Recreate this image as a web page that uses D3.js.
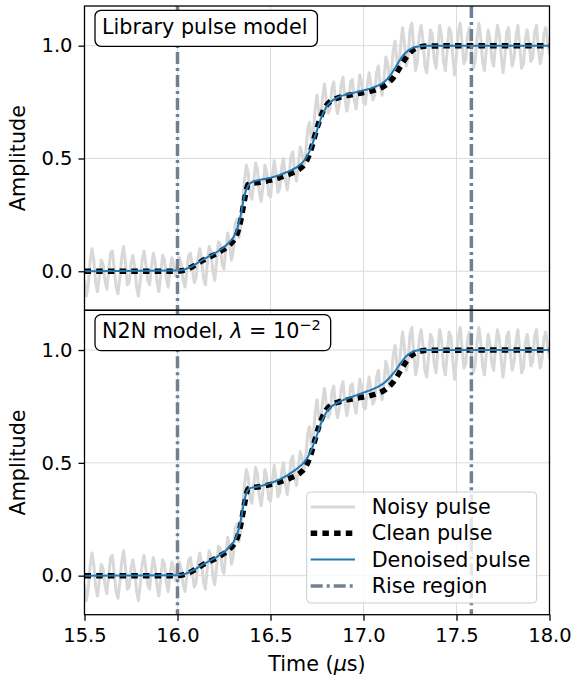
<!DOCTYPE html>
<html><head><meta charset="utf-8">
<script src="https://cdn.jsdelivr.net/npm/d3@7"></script>
<style>body{margin:0;background:#fff}svg{display:block}text{font-family:"DejaVu Sans",sans-serif;fill:#000}</style>
</head><body><svg id="c" width="573" height="681"></svg>
<script>
// ---- data ----
const xTicks = [15.5, 16.0, 16.5, 17.0, 17.5, 18.0];
const yTicks = [0.0, 0.5, 1.0];
const riseRegion = [16.0, 17.58];
const panelTitles = ["Library pulse model", "N2N model"];
const seriesNames = ["Noisy pulse", "Clean pulse", "Denoised pulse", "Rise region"];

// noisy pulse sampled every 0.01 µs from 15.50 µs
const noisyStart = 15.5, noisyStep = 0.01;
const noisyAmp = [
 -0.04,-0.11,-0.06,0.04,0.10,0.05, -0.05,-0.09,-0.02,0.05,0.03, -0.04,-0.08,0.00,0.08,0.09,0.01,
 -0.07,-0.10,-0.03,0.06,0.11,0.04, -0.06,-0.05,0.03,0.07,0.02, -0.07,-0.11,-0.04,0.05,0.09,0.03,
 -0.04,-0.06,0.02,0.08,0.04, -0.05,-0.09,-0.01,0.07,0.05, -0.03,-0.07,0.01,0.06,0.03, -0.02,0.02,
 0.06,0.03,-0.04,-0.07,0.00,0.07, 0.08,0.01,-0.05,-0.03,0.06, 0.10,0.05,-0.03,-0.06,0.03,0.11,
 0.09,0.00,-0.04,0.04,0.13, 0.12,0.03,0.01,0.10,0.17, 0.12,0.05,0.09,0.21,0.23, 0.15,0.20,0.31,0.40,
 0.47,0.44,0.34,0.32,0.40,0.48, 0.45,0.35,0.31,0.38,0.47, 0.44,0.34,0.33,0.42,0.49,0.43,
 0.35,0.37,0.46,0.50,0.41, 0.36,0.42,0.51,0.53,0.44, 0.40,0.48,0.55,
 0.52,0.47,0.53,0.63,0.66, 0.58,0.61,0.72,0.78,0.70, 0.68,0.77,0.83,0.76,0.70, 0.72,0.81,0.84,0.75,0.70,
 0.74,0.83,0.86,0.77,0.71,0.75, 0.84,0.85,0.76,0.72,0.79, 0.87,0.84,0.75,0.74,0.82,0.88,
 0.83,0.76,0.78,0.88,0.91, 0.82,0.78,0.85,0.95,0.92, 0.84,0.88,0.98,
 1.02,0.93,0.90,1.00,1.08,1.01, 0.91,0.95,1.07,1.10,0.99, 0.89,0.93,1.05,
 1.09,1.02,0.91,0.88,0.97,1.07, 1.05,0.94,0.90,1.00,1.09, 1.04,0.93,0.89,0.98,1.08,1.06,
 0.95,0.87,0.96,1.06,1.10, 1.01,0.92,0.94,1.05,1.08, 0.99,0.90,0.93,1.03,1.10,1.04,
 0.93,0.89,0.98,1.07,1.03, 0.94,0.91,1.01,1.09,1.05,0.96, 0.88,0.95,1.06,1.08,
 0.98,0.91,0.95,1.04,1.09, 1.00,0.90,0.92,1.03,1.07,1.01, 0.93,0.95,1.06,1.09,
 0.99,0.92,0.96,1.05,1.08, 1.02,0.96
];
// clean / denoised: 15.5, then every 0.02 µs from 16.00 to 17.34, then 18.0
const pulseTime = [15.5].concat(d3.range(68).map(i => +(16 + 0.02 * i).toFixed(2)), [18.0]);
const cleanAmp = [0,0,0.002,0.006,0.012,0.020,0.030,0.040,0.050,0.058,0.066,0.074,0.083,0.093,0.104,0.118,0.135,0.165,0.225,0.315,0.385,0.390,0.392,0.394,0.397,0.400,0.404,0.408,0.413,0.418,0.424,0.430,0.437,0.445,0.456,0.472,0.500,0.545,0.605,0.660,0.705,0.735,0.752,0.762,0.768,0.773,0.777,0.780,0.783,0.786,0.789,0.792,0.795,0.799,0.803,0.809,0.816,0.826,0.840,0.858,0.882,0.910,0.937,0.960,0.977,0.988,0.994,0.997,0.999,1.0];
const denoisedLibrary = [0,0.003,0.005,0.009,0.015,0.023,0.033,0.043,0.053,0.062,0.071,0.080,0.090,0.101,0.114,0.130,0.150,0.185,0.250,0.335,0.380,0.395,0.401,0.405,0.408,0.411,0.415,0.419,0.424,0.430,0.437,0.444,0.452,0.461,0.473,0.490,0.515,0.552,0.600,0.650,0.696,0.728,0.748,0.761,0.770,0.777,0.782,0.786,0.790,0.794,0.798,0.802,0.806,0.811,0.817,0.824,0.833,0.846,0.864,0.888,0.916,0.942,0.963,0.978,0.988,0.994,0.997,0.999,1.000,1.0];
const denoisedN2N = [0,0.002,0.004,0.008,0.014,0.022,0.031,0.041,0.051,0.060,0.069,0.078,0.088,0.099,0.112,0.128,0.148,0.180,0.245,0.335,0.382,0.390,0.393,0.396,0.400,0.405,0.410,0.416,0.423,0.431,0.440,0.450,0.461,0.473,0.486,0.502,0.525,0.558,0.600,0.648,0.692,0.724,0.744,0.757,0.766,0.774,0.781,0.787,0.793,0.799,0.805,0.811,0.817,0.823,0.830,0.838,0.848,0.861,0.877,0.896,0.918,0.942,0.964,0.980,0.991,0.997,0.999,1.0,1.0,1.0];
const denoisedSets = [denoisedLibrary, denoisedN2N];

// ---- layout ----
const svg = d3.select("#c");
const L = 84.5, R = 549.5;
const panels = [[6, 310.3], [310.3, 614.7]];
const C = {noisy:"#d8d8d8", clean:"#000", den:"#1f77b4", rise:"#708090", grid:"#dcdcdc"};
const x = d3.scaleLinear().domain([15.5, 18.0]).range([L, R]);
const noisyPts = noisyAmp.map((v, i) => [noisyStart + i * noisyStep, v]);
const cleanPts = pulseTime.map((t, i) => [t, cleanAmp[i]]);
const FS = 20.7, TFS = 19.5;

panels.forEach(([top, bot], p) => {
  const y = d3.scaleLinear().domain([-0.173, 1.176]).range([bot, top]);
  const g = svg.append("g");
  const cid = "clip" + p;
  svg.append("defs").append("clipPath").attr("id", cid)
    .append("rect").attr("x", L).attr("y", top).attr("width", R - L).attr("height", bot - top);
  // grid
  g.selectAll(".gx").data(xTicks).join("line").attr("x1", d => x(d)).attr("x2", d => x(d))
    .attr("y1", top).attr("y2", bot).attr("stroke", C.grid).attr("stroke-width", 1);
  g.selectAll(".gy").data(yTicks).join("line").attr("y1", d => y(d)).attr("y2", d => y(d))
    .attr("x1", L).attr("x2", R).attr("stroke", C.grid).attr("stroke-width", 1);
  const plot = g.append("g").attr("clip-path", `url(#${cid})`);
  const line = d3.line().x(d => x(d[0])).y(d => y(d[1]));
  plot.append("path").datum(noisyPts).attr("d", line).attr("fill", "none")
    .attr("stroke", C.noisy).attr("stroke-width", 3).attr("stroke-linejoin", "round");
  plot.append("path").datum(cleanPts).attr("d", line.curve(d3.curveMonotoneX)).attr("fill", "none")
    .attr("stroke", C.clean).attr("stroke-width", 5.5).attr("stroke-dasharray", "6.5,5.2");
  const den = pulseTime.map((t, i) => [t, denoisedSets[p][i]]);
  plot.append("path").datum(den).attr("d", line.curve(d3.curveMonotoneX)).attr("fill", "none")
    .attr("stroke", C.den).attr("stroke-width", 2);
  plot.selectAll(".rv").data(riseRegion).join("line").attr("x1", d => x(d)).attr("x2", d => x(d))
    .attr("y1", top).attr("y2", bot).attr("stroke", C.rise).attr("stroke-width", 3.5)
    .attr("stroke-dasharray", "12,4,3,4");
  // axes
  const ya = d3.axisLeft(y).tickValues(yTicks).tickFormat(d3.format(".1f")).tickSize(6).tickPadding(6);
  const ag = g.append("g").attr("transform", `translate(${L},0)`).call(ya);
  ag.select(".domain").remove();
  ag.selectAll("line").attr("stroke", "#000").attr("stroke-width", 1.3);
  ag.selectAll("text").attr("font-size", TFS).attr("font-family", "DejaVu Sans");
  if (p === 1) {
    const xa = d3.axisBottom(x).tickValues(xTicks).tickFormat(d3.format(".1f")).tickSize(6).tickPadding(7);
    const xg = g.append("g").attr("transform", `translate(0,${bot})`).call(xa);
    xg.select(".domain").remove();
    xg.selectAll("line").attr("stroke", "#000").attr("stroke-width", 1.3);
    xg.selectAll("text").attr("font-size", TFS).attr("font-family", "DejaVu Sans");
  }
  // frame
  g.append("rect").attr("x", L).attr("y", top).attr("width", R - L).attr("height", bot - top)
    .attr("fill", "none").attr("stroke", "#000").attr("stroke-width", 1.3);
  // y label
  g.append("text").attr("transform", `translate(${18},${(top + bot) / 2}) rotate(-90)`)
    .attr("text-anchor", "middle").attr("dominant-baseline", "central").attr("font-size", FS).text("Amplitude");
  // title box
  const tg = g.append("g");
  const tt = tg.append("text").attr("x", 102).attr("y", top + 27.5).attr("font-size", FS);
  if (p === 0) tt.text(panelTitles[0]);
  else {
    tt.append("tspan").text(panelTitles[1] + ", ");
    tt.append("tspan").attr("font-style", "italic").text("λ");
    tt.append("tspan").text(" = 10");
    tt.append("tspan").attr("font-size", FS * 0.7).attr("dy", -8).text("−2");
  }
  const bb = tt.node().getBBox();
  tg.insert("rect", "text").attr("x", 95).attr("y", top + 4.3).attr("width", bb.width + 17)
    .attr("height", 36).attr("rx", 6).attr("fill", "#fff").attr("stroke", "#000").attr("stroke-width", 1.3);
});

// x label
const xl = svg.append("text").attr("x", (L + R) / 2).attr("y", 671).attr("text-anchor", "middle").attr("font-size", FS);
xl.append("tspan").text("Time (");
xl.append("tspan").attr("font-style", "italic").text("μ");
xl.append("tspan").text("s)");

// legend
const lg = svg.append("g");
lg.append("rect").attr("x", 306.7).attr("y", 492).attr("width", 230).attr("height", 111).attr("rx", 4)
  .attr("fill", "#fff").attr("fill-opacity", 0.8).attr("stroke", "#cccccc").attr("stroke-width", 1);
const legStyles = [
  {c: C.noisy, w: 3, d: null},
  {c: C.clean, w: 5.5, d: "6.5,5.2"},
  {c: C.den, w: 2, d: null},
  {c: C.rise, w: 3.5, d: "12,4,3,4"}
];
seriesNames.forEach((n, i) => {
  const yy = 507 + i * 26.3;
  lg.append("line").attr("x1", 310.7).attr("x2", 355).attr("y1", yy).attr("y2", yy)
    .attr("stroke", legStyles[i].c).attr("stroke-width", legStyles[i].w)
    .attr("stroke-dasharray", legStyles[i].d);
  lg.append("text").attr("x", 371.7).attr("y", yy).attr("dominant-baseline", "central").attr("font-size", FS).text(n);
});
</script></body></html>
